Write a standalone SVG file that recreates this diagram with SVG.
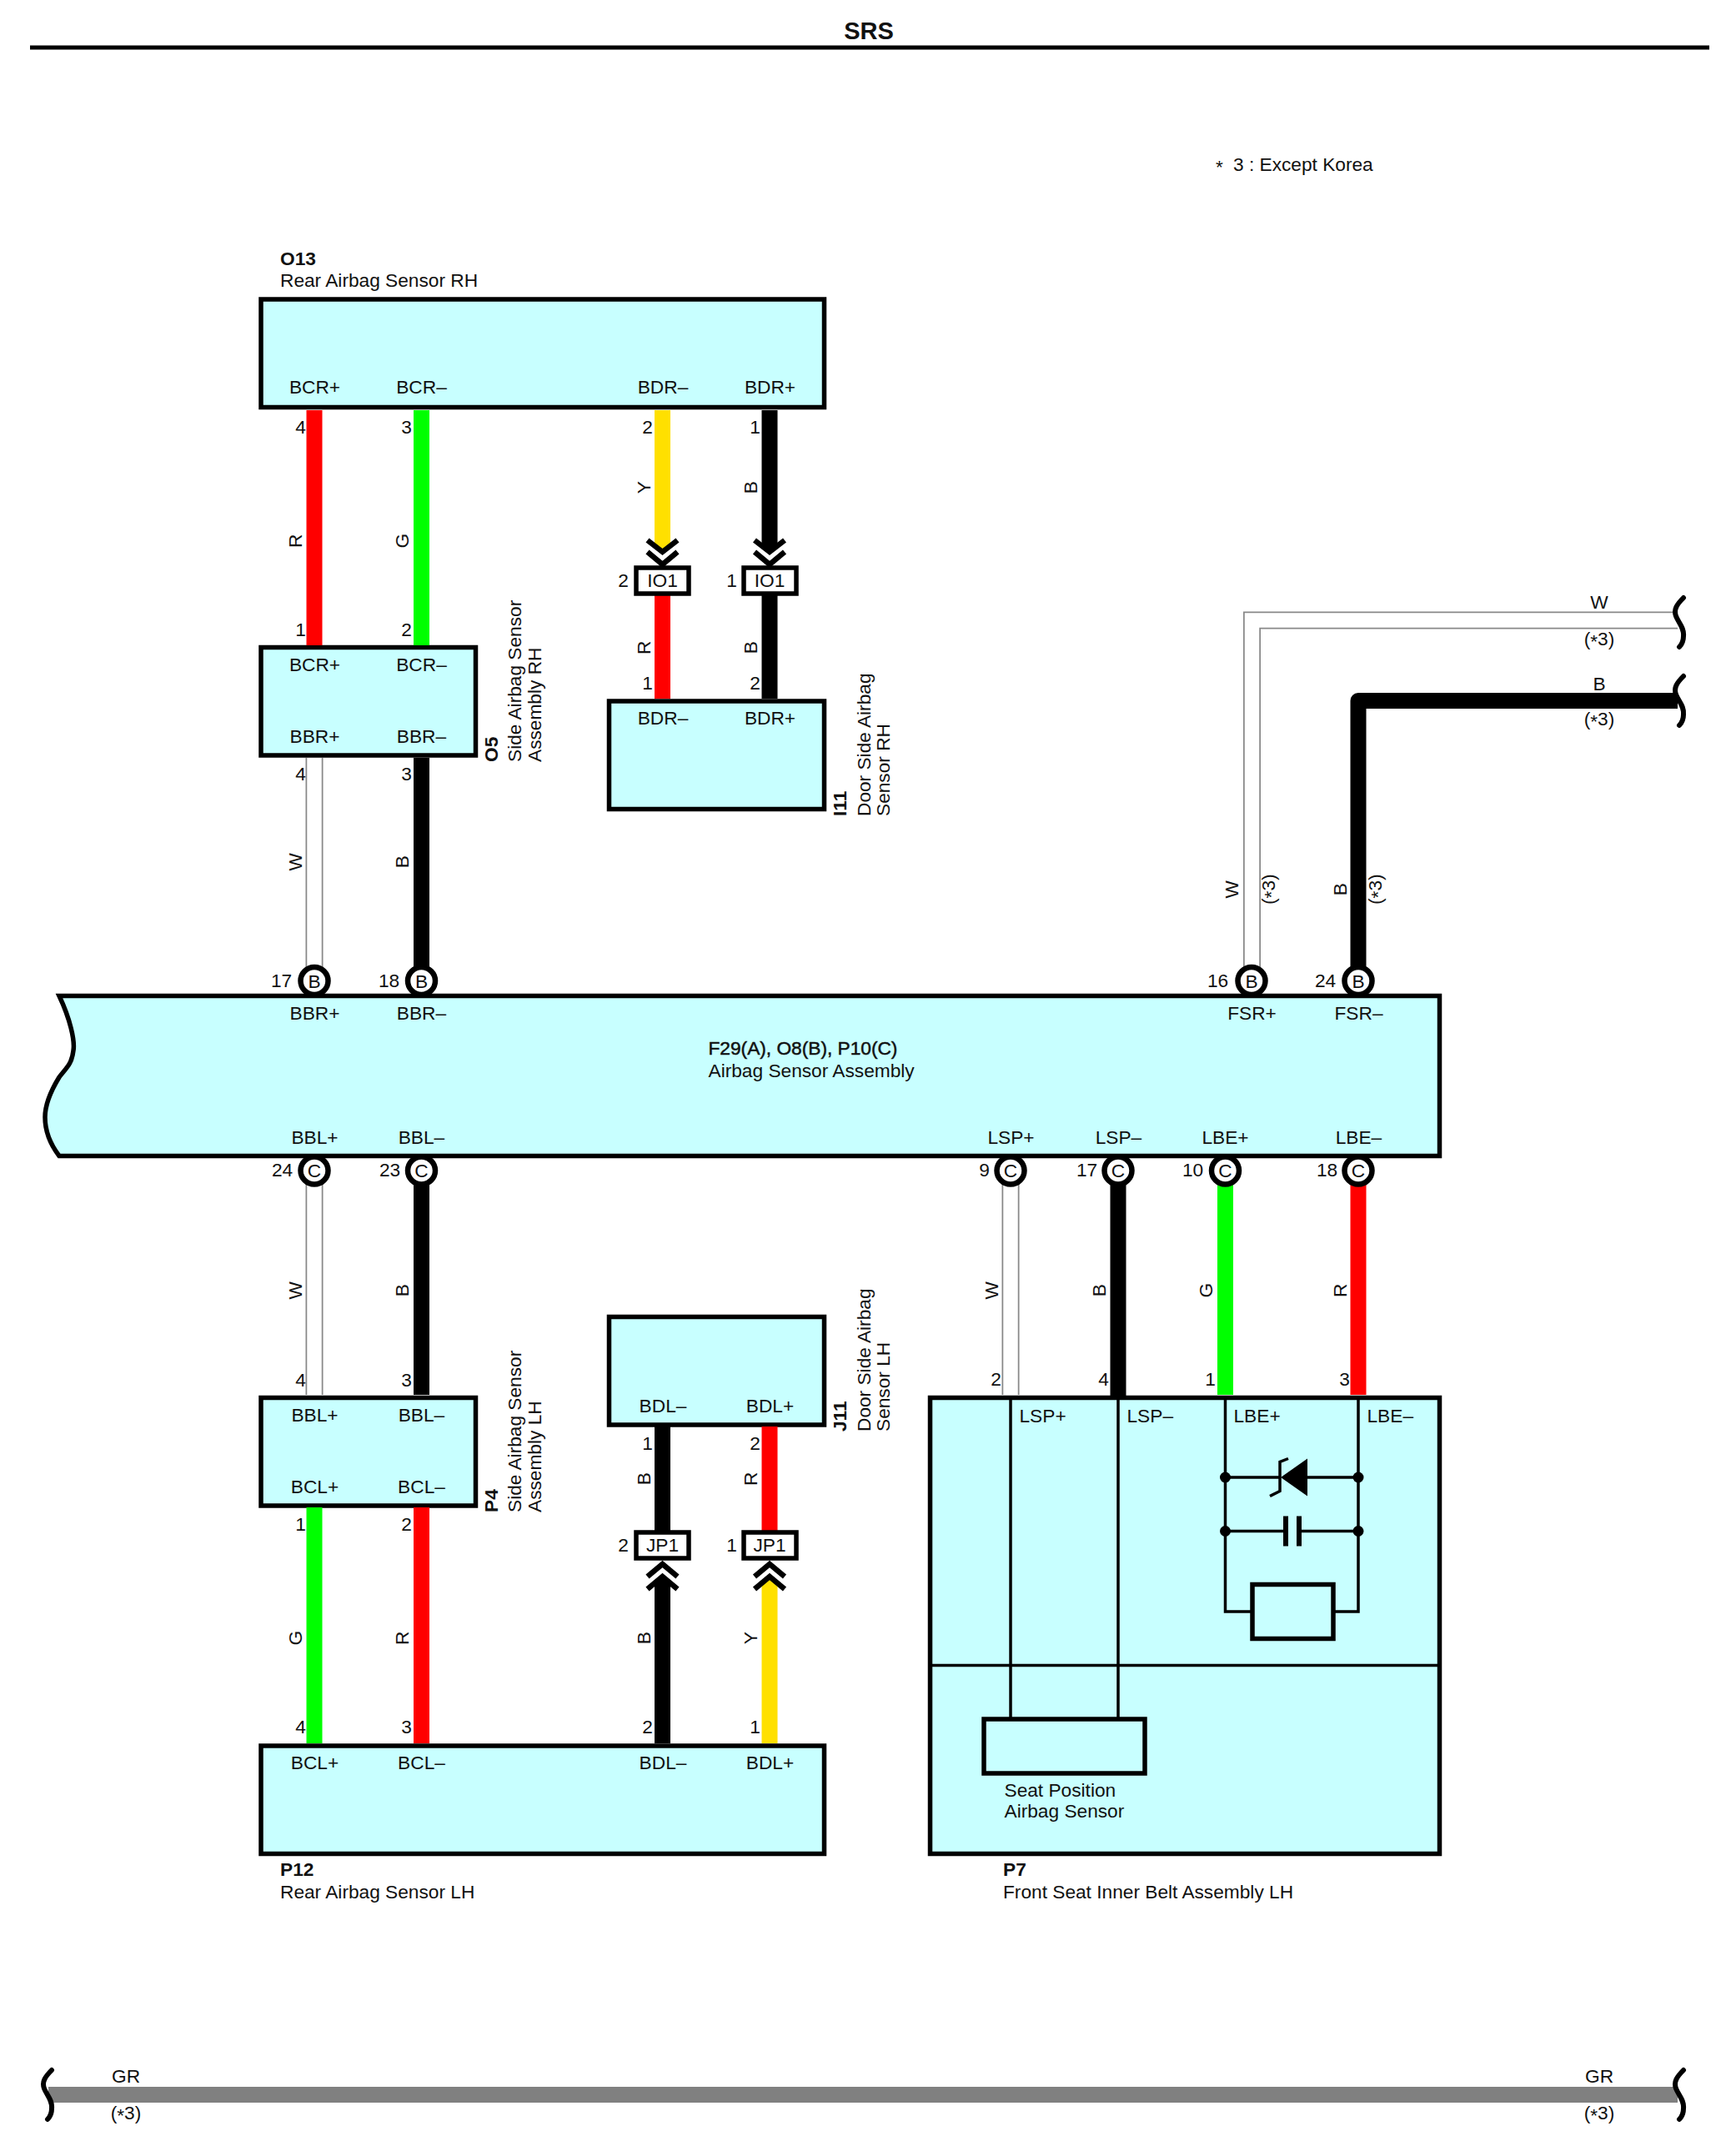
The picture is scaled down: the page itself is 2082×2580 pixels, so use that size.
<svg xmlns="http://www.w3.org/2000/svg" width="2082" height="2580" viewBox="0 0 2082 2580">
<style>
text{font-family:"Liberation Sans",Arial,sans-serif;font-size:22.7px;fill:#111}
.c{text-anchor:middle}
.b{font-weight:bold}
.box{fill:#c8ffff;stroke:#000;stroke-width:5.500;stroke-linejoin:miter}
.w{fill:none;stroke-width:19;stroke-linejoin:round}
.R{stroke:#ff0000}.G{stroke:#00ff00}.Y{stroke:#ffe000}.K{stroke:#000}.GR{stroke:#808080}
.wo{fill:none;stroke:#888;stroke-width:21}
.wi{fill:none;stroke:#fff;stroke-width:17.5}
.pin{fill:#fff;stroke:#000;stroke-width:6.500}
.tag{fill:#fff;stroke:#000;stroke-width:5.500}
.chev{fill:none;stroke:#000;stroke-width:6.500}
.thin{fill:none;stroke:#000;stroke-width:3.500}
.sq{fill:none;stroke:#000;stroke-width:6;stroke-linecap:round}
.dot{fill:#000}
</style>
<defs>
<path id="sq" class="sq" d="M7 -28C-1 -20 -5 -14 -2 -6C1 2 8 8 7 18C7 24 5 28 2 31"/>
<path id="dn" class="chev" d="M-18 0L0 14L18 0M-18 14L0 29L18 14"/>
<path id="up" class="chev" d="M-18 15L0 0L18 15M-18 30L0 15L18 30"/>
</defs>

<g id="header">
<text class="c b" x="1042" y="47" style="font-size:29px">SRS</text>
<rect x="36" y="54.500" width="2014" height="5" fill="#000"/>
<text x="1458" y="204.500"><tspan dy="3">*</tspan><tspan x="1479" dy="-3">3 : Except Korea</tspan></text>
</g>

<g id="O13">
<rect class="box" x="313" y="359" width="675.500" height="129.500"/>
<g transform="translate(0.500 0)">
<text x="335.5" y="318" class="b">O13</text>
<text x="335.5" y="344">Rear Airbag Sensor RH</text>
<text class="c" x="377" y="472">BCR+</text><text class="c" x="505" y="472">BCR–</text>
<text class="c" x="794.5" y="472">BDR–</text><text class="c" x="923" y="472">BDR+</text>
</g>
</g>
<g id="O5">
<rect class="box" x="313" y="776.500" width="257.500" height="129.500"/>
<g transform="translate(0.500 0)">
<text class="c" x="377" y="805">BCR+</text><text class="c" x="505" y="805">BCR–</text>
<text class="c" x="377" y="891">BBR+</text><text class="c" x="505" y="891">BBR–</text>
</g>
<text class="b" transform="translate(597 914) rotate(-90)">O5</text>
<text transform="translate(625 914) rotate(-90)">Side Airbag Sensor</text>
<text transform="translate(649 914) rotate(-90)">Assembly RH</text>
</g>
<g id="I11">
<rect class="box" x="730.500" y="841" width="258" height="129.500"/>
<g transform="translate(0.500 0)">
<text class="c" x="794.500" y="869">BDR–</text><text class="c" x="923" y="869">BDR+</text>
</g>
<text class="b" transform="translate(1015 979) rotate(-90)">I11</text>
<text transform="translate(1043.500 979) rotate(-90)">Door Side Airbag</text>
<text transform="translate(1067 979) rotate(-90)">Sensor RH</text>
</g>
<g id="J11">
<rect class="box" x="730.500" y="1579.500" width="258" height="129.500"/>
<g transform="translate(0.500 0)">
<text class="c" x="794.500" y="1694">BDL–</text><text class="c" x="923" y="1694">BDL+</text>
</g>
<text class="b" transform="translate(1015 1717) rotate(-90)">J11</text>
<text transform="translate(1043.500 1717) rotate(-90)">Door Side Airbag</text>
<text transform="translate(1067 1717) rotate(-90)">Sensor LH</text>
</g>
<g id="P4">
<rect class="box" x="313" y="1676.500" width="257.500" height="129.500"/>
<g transform="translate(0.500 0)">
<text class="c" x="377" y="1705">BBL+</text><text class="c" x="505" y="1705">BBL–</text>
<text class="c" x="377" y="1791">BCL+</text><text class="c" x="505" y="1791">BCL–</text>
</g>
<text class="b" transform="translate(597 1814) rotate(-90)">P4</text>
<text transform="translate(625 1814) rotate(-90)">Side Airbag Sensor</text>
<text transform="translate(649 1814) rotate(-90)">Assembly LH</text>
</g>
<g id="P12">
<rect class="box" x="313" y="2094" width="675.500" height="129.500"/>
<g transform="translate(0.500 0)">
<text class="c" x="377" y="2122">BCL+</text><text class="c" x="505" y="2122">BCL–</text>
<text class="c" x="794.500" y="2122">BDL–</text><text class="c" x="923" y="2122">BDL+</text>
<text x="335.5" y="2250" class="b">P12</text>
<text x="335.5" y="2277">Rear Airbag Sensor LH</text>
</g>
</g>
<g id="P7">
<rect class="box" x="1115.500" y="1676.500" width="611" height="547"/>
<path class="thin" d="M1115 1997.500H1727M1212 1676V2061M1341 1676V2061M1469.500 1676V1933H1502M1629 1676V1933H1600M1469.500 1772H1536M1568 1772H1629M1469.500 1836.500H1542M1558 1836.500H1629"/>
<rect x="1180" y="2062" width="193" height="65" fill="#c8ffff" stroke="#000" stroke-width="5.500"/>
<rect x="1502" y="1900.500" width="97" height="65" fill="#c8ffff" stroke="#000" stroke-width="5.500"/>
<path class="dot" d="M1536 1772L1568 1749.500V1794.500Z"/>
<path class="thin" d="M1545 1749.500L1535 1753.500V1788.500L1523 1794.500"/>
<path class="thin" style="stroke-width:6" d="M1542 1818.500V1854.500M1558 1818.500V1854.500"/>
<circle class="dot" cx="1469.500" cy="1772" r="6.500"/><circle class="dot" cx="1629" cy="1772" r="6.500"/>
<circle class="dot" cx="1469.500" cy="1836.500" r="6.500"/><circle class="dot" cx="1629" cy="1836.500" r="6.500"/>
<g transform="translate(0.500 0)">
<text x="1222" y="1706">LSP+</text><text x="1351" y="1706">LSP–</text>
<text x="1479" y="1706">LBE+</text><text x="1639" y="1706">LBE–</text>
<text x="1204" y="2155">Seat Position</text>
<text x="1204" y="2180">Airbag Sensor</text>
<text x="1202.500" y="2250" class="b">P7</text>
<text x="1202.500" y="2277">Front Seat Inner Belt Assembly LH</text>
</g>
</g>
<g id="F29">
<path class="box" d="M71 1194.500H1726.500V1386.500H71C60 1372 54 1358 54 1340C54 1325 60 1310 71 1292C78 1282 86 1278 88 1260C90 1248 84 1222 71 1194.500Z"/>
<g transform="translate(0.500 0)">
<text class="c" x="377" y="1223">BBR+</text><text class="c" x="505" y="1223">BBR–</text>
<text class="c" x="1501" y="1223">FSR+</text><text class="c" x="1629" y="1223">FSR–</text>
<text class="c" x="377" y="1372">BBL+</text><text class="c" x="505" y="1372">BBL–</text>
<text class="c" x="1212" y="1372">LSP+</text><text class="c" x="1341" y="1372">LSP–</text>
<text class="c" x="1469" y="1372">LBE+</text><text class="c" x="1629" y="1372">LBE–</text>
<text x="849" y="1265" style="stroke:#111;stroke-width:.5">F29(A), O8(B), P10(C)</text>
<text x="849" y="1292">Airbag Sensor Assembly</text>
</g>
</g>

<g id="connectors">
<path class="w R" d="M377 492V774"/><path class="w G" d="M505.500 492V774"/>
<path class="w Y" d="M794.500 492V658"/><path class="w K" d="M923 492V658"/>
<path class="w R" d="M794.500 712V838"/><path class="w K" d="M923 712V838"/>
<path class="wo" d="M377 909V1160"/><path class="wi" d="M377 909V1160"/>
<path class="w K" d="M505.500 909V1160"/>
<path class="wo" d="M1501.500 1160V744H2012"/><path class="wi" d="M1501.500 1160V744H2014"/>
<path class="w K" d="M1629 1160V840.500H2012"/>
<path class="wo" d="M377 1420V1673"/><path class="wi" d="M377 1420V1673"/>
<path class="w K" d="M505.500 1420V1673"/>
<path class="w G" d="M377 1808V2091"/><path class="w R" d="M505.500 1808V2091"/>
<path class="w K" d="M794.500 1711V1838"/><path class="w R" d="M923 1711V1838"/>
<path class="w K" d="M794.500 1895V2091"/><path class="w Y" d="M923 1895V2091"/>
<path class="wo" d="M1212 1420V1673"/><path class="wi" d="M1212 1420V1673"/>
<path class="w K" d="M1341 1420V1676"/><path class="w G" d="M1469.500 1420V1673"/><path class="w R" d="M1629 1420V1673"/>
<path class="w GR" d="M58 2512.500H2012"/>

<use href="#dn" x="794.500" y="648"/><use href="#dn" x="923" y="648"/>
<use href="#up" x="794.500" y="1876"/><use href="#up" x="923" y="1876"/>
<use href="#sq" x="2012" y="745"/><use href="#sq" x="2012" y="839"/>
<use href="#sq" x="2012" y="2511"/><use href="#sq" x="55" y="2511"/>

<g id="tags">
<rect class="tag" x="763" y="681" width="63" height="31"/><rect class="tag" x="892" y="681" width="63" height="31"/>
<rect class="tag" x="763" y="1838" width="63" height="31"/><rect class="tag" x="892" y="1838" width="63" height="31"/>
<text class="c" x="794.500" y="704">IO1</text><text class="c" x="923" y="704">IO1</text>
<text class="c" x="794.500" y="1861">JP1</text><text class="c" x="923" y="1861">JP1</text>
</g>

<g id="pins">
<circle class="pin" cx="377" cy="1176.500" r="16.500"/><circle class="pin" cx="505.500" cy="1176.500" r="16.500"/>
<circle class="pin" cx="1501" cy="1176.500" r="16.500"/><circle class="pin" cx="1629" cy="1176.500" r="16.500"/>
<circle class="pin" cx="377" cy="1404" r="16.500"/><circle class="pin" cx="505.500" cy="1404" r="16.500"/>
<circle class="pin" cx="1212" cy="1404" r="16.500"/><circle class="pin" cx="1341" cy="1404" r="16.500"/>
<circle class="pin" cx="1469.500" cy="1404" r="16.500"/><circle class="pin" cx="1629" cy="1404" r="16.500"/>
<text class="c" x="377" y="1185">B</text><text class="c" x="505.500" y="1185">B</text>
<text class="c" x="1501" y="1185">B</text><text class="c" x="1629" y="1185">B</text>
<text class="c" x="377" y="1412">C</text><text class="c" x="505.500" y="1412">C</text>
<text class="c" x="1212" y="1412">C</text><text class="c" x="1341" y="1412">C</text>
<text class="c" x="1469.500" y="1412">C</text><text class="c" x="1629" y="1412">C</text>
</g>

<g id="pin-numbers" transform="translate(0.500 0)">
<text class="c" x="360" y="520">4</text><text class="c" x="487" y="520">3</text><text class="c" x="776" y="520">2</text><text class="c" x="905" y="520">1</text>
<text class="c" x="360" y="763">1</text><text class="c" x="487" y="763">2</text>
<text class="c" x="360" y="936">4</text><text class="c" x="487" y="936">3</text>
<text class="c" x="776" y="827">1</text><text class="c" x="905" y="827">2</text>
<text class="c" x="747" y="704">2</text><text class="c" x="877" y="704">1</text>
<text class="c" x="337" y="1184">17</text><text class="c" x="466" y="1184">18</text><text class="c" x="1460" y="1184">16</text><text class="c" x="1589" y="1184">24</text>
<text class="c" x="338" y="1411">24</text><text class="c" x="467" y="1411">23</text><text class="c" x="1180" y="1411">9</text><text class="c" x="1303" y="1411">17</text><text class="c" x="1430" y="1411">10</text><text class="c" x="1591" y="1411">18</text>
<text class="c" x="360" y="1663">4</text><text class="c" x="487" y="1663">3</text>
<text class="c" x="360" y="1836">1</text><text class="c" x="487" y="1836">2</text>
<text class="c" x="360" y="2079">4</text><text class="c" x="487" y="2079">3</text><text class="c" x="776" y="2079">2</text><text class="c" x="905" y="2079">1</text>
<text class="c" x="776" y="1739">1</text><text class="c" x="905" y="1739">2</text>
<text class="c" x="747" y="1861">2</text><text class="c" x="877" y="1861">1</text>
<text class="c" x="1194" y="1662">2</text><text class="c" x="1323" y="1662">4</text><text class="c" x="1451" y="1662">1</text><text class="c" x="1612" y="1662">3</text>
</g>

<g id="wire-labels" transform="translate(0 0.700)">
<text class="c" transform="translate(362 648) rotate(-90)">R</text>
<text class="c" transform="translate(490 648) rotate(-90)">G</text>
<text class="c" transform="translate(780 584) rotate(-90)">Y</text>
<text class="c" transform="translate(908 584) rotate(-90)">B</text>
<text class="c" transform="translate(780 776) rotate(-90)">R</text>
<text class="c" transform="translate(908 776) rotate(-90)">B</text>
<text class="c" transform="translate(362 1033) rotate(-90)">W</text>
<text class="c" transform="translate(490 1033) rotate(-90)">B</text>
<text class="c" transform="translate(362 1547) rotate(-90)">W</text>
<text class="c" transform="translate(490 1547) rotate(-90)">B</text>
<text class="c" transform="translate(362 1964) rotate(-90)">G</text>
<text class="c" transform="translate(490 1964) rotate(-90)">R</text>
<text class="c" transform="translate(780 1773) rotate(-90)">B</text>
<text class="c" transform="translate(908 1773) rotate(-90)">R</text>
<text class="c" transform="translate(780 1964) rotate(-90)">B</text>
<text class="c" transform="translate(908 1964) rotate(-90)">Y</text>
<text class="c" transform="translate(1197 1547) rotate(-90)">W</text>
<text class="c" transform="translate(1326 1547) rotate(-90)">B</text>
<text class="c" transform="translate(1454 1547) rotate(-90)">G</text>
<text class="c" transform="translate(1615 1547) rotate(-90)">R</text>
<text class="c" transform="translate(1485 1066) rotate(-90)">W</text>
<text class="c" transform="translate(1615 1066) rotate(-90)">B</text>
<text class="c" transform="translate(1529 1066) rotate(-90)">(<tspan dy="3">*</tspan><tspan dy="-3">3)</tspan></text>
<text class="c" transform="translate(1657 1066) rotate(-90)">(<tspan dy="3">*</tspan><tspan dy="-3">3)</tspan></text>
<text class="c" x="1918" y="729">W</text>
<text class="c" x="1918" y="773">(<tspan dy="3">*</tspan><tspan dy="-3">3)</tspan></text>
<text class="c" x="1918" y="827">B</text>
<text class="c" x="1918" y="869">(<tspan dy="3">*</tspan><tspan dy="-3">3)</tspan></text>
<text class="c" x="151" y="2497">GR</text>
<text class="c" x="151" y="2541">(<tspan dy="3">*</tspan><tspan dy="-3">3)</tspan></text>
<text class="c" x="1918" y="2497">GR</text>
<text class="c" x="1918" y="2541">(<tspan dy="3">*</tspan><tspan dy="-3">3)</tspan></text>
</g>
</g>
</svg>
